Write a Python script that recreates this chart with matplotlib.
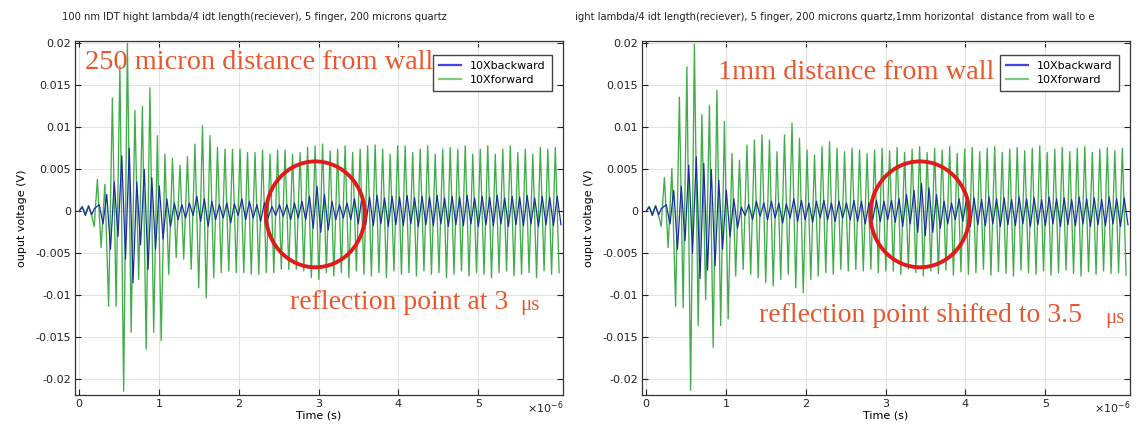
import numpy as np
import matplotlib
matplotlib.use("Agg")
import matplotlib.pyplot as plt
from matplotlib.patches import Ellipse
from matplotlib.ticker import MultipleLocator, FuncFormatter

# ---- data (voltages in mV, times in microseconds) ----
period = 0.094          # oscillation period
burst_start = 0.23      # first big green cycle

pre_t = [0.0, 0.04, 0.08, 0.12, 0.16, 0.19]
pre_green = [0.0, 0.6, -0.3, 0.7, -0.6, -1.8]
pre_blue = [0.0, 0.5, -0.5, 0.6, -0.4, 0.3]

# left panel: 250 micron from wall
green_hi_L = [3.8, 3.2, 13.5, 17.3, 20.0, 12.0, 12.5, 14.7, 9.0, 6.8,
              6.3, 5.5, 6.5, 8.0, 10.2, 9.0, 7.6, 7.4, 7.4, 7.4,
              7.0, 7.0, 7.3, 6.8, 7.3, 7.3, 6.8, 7.0, 7.6, 7.8,
              8.0, 7.2, 7.4, 7.8, 7.0, 7.4, 7.8, 7.9, 7.4, 6.8,
              7.8, 7.8, 7.0, 7.4, 7.8, 6.8, 7.4, 7.6, 7.4, 7.8,
              6.8, 7.4, 7.8, 6.8, 7.4, 7.8, 7.0, 7.4, 6.8, 7.6, 7.4, 7.6]
green_lo_L = [-4.3, -11.3, -11.3, -21.4, -14.4, -8.1, -16.4, -14.4, -15.4, -7.5,
              -5.5, -5.7, -6.9, -9.1, -10.3, -7.9, -7.3, -7.1, -7.3, -7.3,
              -7.5, -7.5, -7.3, -7.3, -6.9, -6.9, -6.9, -7.1, -7.9, -8.1,
              -7.3, -7.7, -7.3, -7.9, -7.1, -7.5, -7.7, -7.3, -7.9, -7.1,
              -7.5, -7.3, -7.7, -7.1, -7.5, -7.3, -7.9, -7.5, -7.1, -7.7,
              -7.3, -7.5, -7.9, -7.3, -7.1, -7.7, -7.5, -7.3, -7.9, -7.1, -7.5, -7.3]
blue_hi_L = [0.8, 2.0, 3.5, 6.6, 7.5, 3.5, 5.0, 4.0, 3.0, 1.5,
             1.0, 0.8, 1.0, 1.8, 1.5, 1.2, 0.8, 1.0, 0.9, 1.5,
             1.2, 0.8, 1.0, 0.6, 0.8, 0.8, 1.0, 1.2, 1.8, 3.0,
             2.0, 1.2, 0.8, 1.0, 1.5, 1.8, 1.7, 1.9, 1.6, 1.8,
             1.7, 1.9, 1.6, 1.8, 1.7, 1.9, 1.6, 1.8, 1.7, 1.9,
             1.6, 1.8, 1.7, 1.9, 1.6, 1.8, 1.7, 1.9, 1.6, 1.8, 1.7, 1.8]
blue_lo_L = [-1.5, -4.5, -3.0, -5.7, -8.5, -4.0, -6.9, -4.5, -3.3, -1.8,
             -1.0, -0.8, -0.5, -1.2, -1.8, -1.0, -0.8, -1.4, -0.5, -1.0,
             -0.8, -1.2, -0.8, -0.5, -0.6, -1.0, -0.8, -1.0, -2.0, -2.5,
             -2.2, -1.0, -0.8, -1.0, -1.5, -1.6, -1.7, -1.5, -1.8, -1.6,
             -1.7, -1.5, -1.8, -1.6, -1.7, -1.5, -1.8, -1.6, -1.7, -1.5,
             -1.8, -1.6, -1.7, -1.5, -1.8, -1.6, -1.7, -1.5, -1.8, -1.6, -1.7, -1.6]

# right panel: 1 mm from wall
green_hi_R = [4.0, 5.1, 13.6, 17.2, 19.9, 11.5, 12.6, 14.4, 10.7, 6.9,
              6.1, 7.9, 8.5, 9.1, 8.5, 7.1, 9.1, 10.5, 8.7, 7.3,
              6.7, 7.7, 8.3, 7.5, 7.1, 7.5, 7.3, 6.9, 7.3, 7.5,
              7.2, 7.6, 7.0, 7.4, 7.7, 7.0, 7.5, 7.3, 7.7, 6.9,
              7.4, 7.6, 7.1, 7.5, 7.7, 7.0, 7.4, 7.6, 7.2, 7.5,
              7.8, 7.0, 7.4, 7.6, 7.1, 7.5, 7.7, 7.0, 7.4, 7.6, 7.2, 7.5]
green_lo_R = [-4.3, -11.3, -11.5, -21.3, -13.6, -10.5, -16.2, -13.6, -12.8, -7.7,
              -6.9, -7.5, -7.9, -8.5, -8.9, -8.1, -7.5, -9.1, -9.7, -8.1,
              -7.7, -7.3, -7.5, -6.9, -7.1, -6.9, -7.1, -6.9, -7.3, -7.1,
              -7.1, -7.5, -6.9, -7.3, -7.7, -7.1, -7.4, -7.0, -7.6, -7.2,
              -7.5, -7.3, -6.9, -7.6, -7.2, -7.4, -7.7, -7.0, -7.3, -7.5,
              -7.1, -7.6, -7.3, -7.0, -7.4, -7.7, -7.2, -7.5, -7.1, -7.4, -7.3, -7.6]
blue_hi_R = [0.8, 2.5, 3.0, 5.5, 6.5, 5.7, 5.0, 3.7, 2.5, 1.5,
             0.5, 0.8, 1.2, 1.0, 1.2, 1.0, 0.9, 1.5, 1.3, 1.0,
             1.2, 1.3, 1.0, 1.2, 1.0, 1.3, 1.2, 1.0, 1.3, 1.2,
             1.3, 1.5, 2.0, 2.5, 3.3, 2.8, 2.0, 1.2, 1.0, 1.5,
             1.5, 1.6, 1.4, 1.7, 1.5, 1.6, 1.4, 1.7, 1.5, 1.6,
             1.4, 1.7, 1.5, 1.6, 1.4, 1.7, 1.5, 1.6, 1.4, 1.7, 1.5, 1.6]
blue_lo_R = [-1.5, -4.5, -3.5, -5.0, -8.0, -7.0, -6.5, -4.5, -3.0, -2.0,
             -0.5, -1.0, -0.6, -1.0, -0.8, -1.4, -0.8, -1.2, -1.0, -1.3,
             -0.8, -1.0, -1.2, -0.8, -1.0, -1.2, -1.5, -1.0, -1.2, -1.0,
             -1.3, -1.8, -1.5, -2.5, -2.9, -2.5, -2.0, -1.5, -1.0, -1.2,
             -1.8, -1.6, -1.7, -1.5, -1.8, -1.6, -1.7, -1.5, -1.8, -1.6,
             -1.7, -1.5, -1.8, -1.6, -1.7, -1.5, -1.8, -1.6, -1.7, -1.5, -1.8, -1.6]

titles = ["100 nm IDT hight lambda/4 idt length(reciever), 5 finger, 200 microns quartz",
          "ight lambda/4 idt length(reciever), 5 finger, 200 microns quartz,1mm horizontal  distance from wall to e"]
headlines = ["250 micron distance from wall", "1mm distance from wall"]
reflections = ["reflection point at 3", "reflection point shifted to 3.5"]
circle_t = [2.96, 3.43]     # circle centre (us)
xticks = [0, 1, 2, 3, 4, 5]


def peaks_series(hi, lo, shift, pre_v):
    # alternate the read-off maxima and minima, half a period apart
    v = np.empty(2 * len(hi))
    v[0::2] = hi
    v[1::2] = lo
    t = burst_start + shift + np.arange(len(v)) * period / 2
    t = np.concatenate([pre_t, t])
    v = np.concatenate([pre_v, v])
    return t, v / 1000.0


W, H = 1142, 426
fig = plt.figure(figsize=(W / 100, H / 100), dpi=100)
fig.patch.set_facecolor("white")

green_c = "#40ad4a"
blue_c = "#1b2f9e"
text_c = "#e8582e"
fam = ["Liberation Serif", "DejaVu Serif"]

panels = [
    (75, green_hi_L, green_lo_L, blue_hi_L, blue_lo_L),
    (642, green_hi_R, green_lo_R, blue_hi_R, blue_lo_R),
]
# text placement (axes fractions): headline, reflection line, "μs"
text_pos = [
    ((0.02, 0.975), (0.44, 0.262), (0.913, 0.252)),
    ((0.155, 0.945), (0.24, 0.225), (0.949, 0.215)),
]

for i, (x0, ghi, glo, bhi, blo) in enumerate(panels):
    ax = fig.add_axes([x0 / W, 31 / H, 488 / W, 354 / H])
    tg, vg = peaks_series(ghi, glo, 0.0, pre_green)
    tb, vb = peaks_series(bhi, blo, period / 4, pre_blue)
    lg, = ax.plot(tg, vg, color=green_c, lw=0.95, label="10Xforward")
    lb, = ax.plot(tb, vb, color=blue_c, lw=0.9, label="10Xbackward")

    ax.set_xlim(-0.05, 6.06)
    ax.set_ylim(-0.02186, 0.02027)
    ax.set_xticks(xticks)
    ax.yaxis.set_major_locator(MultipleLocator(0.005))
    ax.yaxis.set_major_formatter(FuncFormatter(lambda v, _: f"{round(v, 6):g}"))
    ax.tick_params(direction="in", top=True, right=True, labelsize=8,
                   length=4, width=0.8, colors="#222222", pad=3)
    ax.grid(True, color="#e2e2e2", lw=0.7)
    for s in ax.spines.values():
        s.set_color("#333333")
        s.set_linewidth(0.9)
    ax.set_xlabel("Time (s)", fontsize=8, labelpad=1)
    ax.set_ylabel("ouput voltage (V)", fontsize=8, labelpad=6)
    ax.text(1.0, -0.012, "×10$^{-6}$", transform=ax.transAxes, ha="right",
            va="top", fontsize=8, color="#222222")

    leg = ax.legend(handles=[lb, lg], loc="upper right", fontsize=8,
                    bbox_to_anchor=(0.977, 0.96), borderaxespad=0,
                    fancybox=False, framealpha=1, edgecolor="#444444",
                    handlelength=2.0, borderpad=0.55, labelspacing=0.35)
    for h, c in zip(leg.get_lines(), ["#4545e6", "#7ccc7c"]):
        h.set_color(c)
        h.set_linewidth(1.6)

    ax.add_patch(Ellipse((circle_t[i], -0.00036), 1.24, 0.0126, fill=False,
                         edgecolor="#e11b1b", lw=2.8, zorder=5))

    hp, rp, mp = text_pos[i]
    ax.text(*hp, headlines[i], transform=ax.transAxes, fontsize=20.4,
            family=fam, color=text_c, va="top", ha="left")
    ax.text(*rp, reflections[i], transform=ax.transAxes, fontsize=20,
            family=fam, color=text_c, va="center", ha="left")
    ax.text(*mp, "μs", transform=ax.transAxes, fontsize=15,
            family=fam, color=text_c, va="center", ha="left")

fig.text(62 / W, 1 - 17 / H, titles[0], fontsize=7.2, va="center", ha="left", color="#222222")
fig.text(575 / W, 1 - 17 / H, titles[1], fontsize=7.2, va="center", ha="left", color="#222222")

fig.savefig("out.png", dpi=100, facecolor="white")
